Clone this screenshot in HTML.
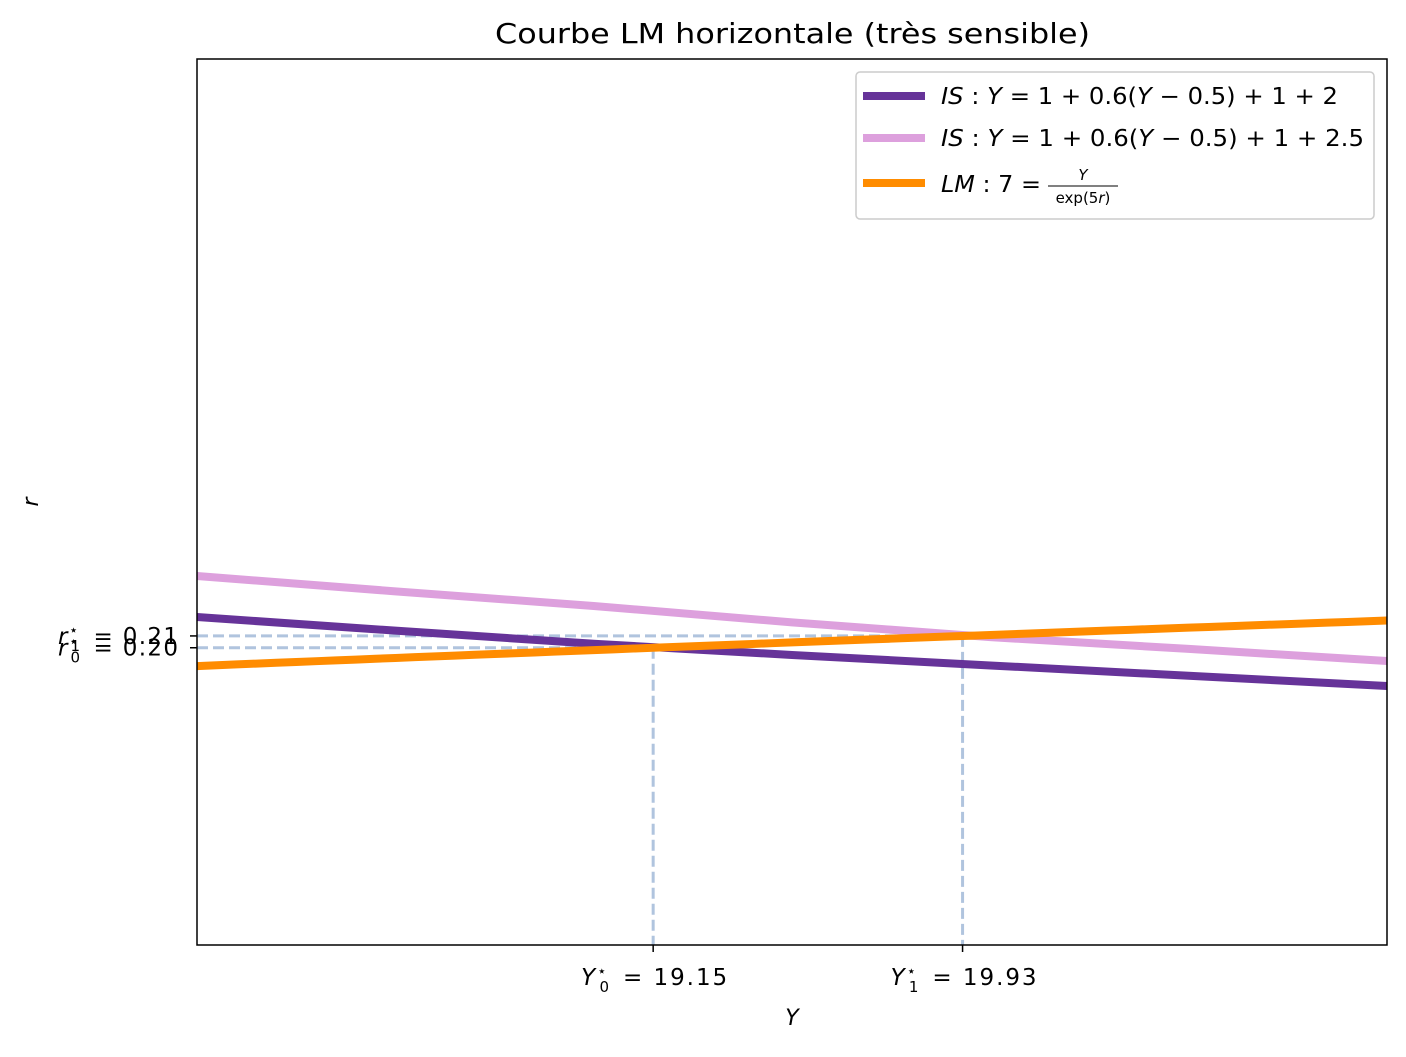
<!DOCTYPE html>
<html><head><meta charset="utf-8"><style>
body{margin:0;background:#fff}
svg text{font-family:"DejaVu Sans","Liberation Sans",sans-serif;fill:#000}
</style></head><body>
<svg width="1406" height="1052" viewBox="0 0 1406 1052">
<text x="495" y="43" font-size="28" textLength="595" lengthAdjust="spacingAndGlyphs">Courbe LM horizontale (très sensible)</text>
<g id="plot"></g>
<rect x="197" y="59" width="1190" height="886" fill="none" stroke="#000" stroke-width="1.5"/>
<text x="792" y="1025" font-size="22" font-style="italic" text-anchor="middle">Y</text>
<text x="38" y="502" font-size="22" font-style="italic" text-anchor="middle" transform="rotate(-90 38 502)">r</text>
<g>
<rect x="856" y="72" width="518" height="147" rx="4" fill="#fff" fill-opacity="0.8" stroke="#ccc" stroke-width="1.5"/>
<line x1="863" y1="96" x2="925" y2="96" stroke="#663399" stroke-width="8"/>
<text x="941" y="104" font-size="23" textLength="397" lengthAdjust="spacingAndGlyphs"><tspan font-style="italic">IS</tspan> : <tspan font-style="italic">Y</tspan> = 1 + 0.6(<tspan font-style="italic">Y</tspan> − 0.5) + 1 + 2</text>
<line x1="863" y1="138" x2="925" y2="138" stroke="#dda0dd" stroke-width="8"/>
<text x="941" y="146" font-size="23" textLength="423" lengthAdjust="spacingAndGlyphs"><tspan font-style="italic">IS</tspan> : <tspan font-style="italic">Y</tspan> = 1 + 0.6(<tspan font-style="italic">Y</tspan> − 0.5) + 1 + 2.5</text>
<line x1="863" y1="183" x2="925" y2="183" stroke="#ff8c00" stroke-width="8"/>
<text x="941" y="192" font-size="23" textLength="100" lengthAdjust="spacingAndGlyphs"><tspan font-style="italic">LM</tspan> : 7 =</text>
<text x="1083" y="180" font-size="15" font-style="italic" text-anchor="middle">Y</text>
<line x1="1048" y1="186" x2="1118" y2="186" stroke="#000" stroke-width="1"/>
<text x="1083" y="203" font-size="15" text-anchor="middle">exp(5<tspan font-style="italic">r</tspan>)</text>
</g>
</svg>
<script>
const Ygrid=[18,18.5,19,19.5,20,20.5,21];
const isBase=[0.2221,0.2129,0.2040,0.1964,0.1893,0.1823,0.1754];
const isShift=[0.2499,0.2395,0.2296,0.2185,0.2085,0.2005,0.1923];
const eqY=[19.15,19.93];
const eqR=[0.2013,0.2093];
const xTickLabels=["19.15","19.93"];
const yTickLabels=["0.20","0.21"];
const X0=197,X1=1387,T=59,B=945;
const sx=v=>X0+(v-18)/(21-18)*(X1-X0);
const sy=v=>B-(v-0)/(0.6-0)*(B-T);
const g=document.getElementById('plot');
const NS="http://www.w3.org/2000/svg";
function mk(t,a){const e=document.createElementNS(NS,t);for(const k in a)e.setAttribute(k,a[k]);g.appendChild(e);return e;}
eqY.forEach((y,i)=>{
 const h=mk('line',{x1:X0,x2:sx(y),y1:sy(eqR[i]),y2:sy(eqR[i]),stroke:'#b0c4de','stroke-width':3,'stroke-dasharray':'11,5'});
 
 
 const v=mk('line',{x1:sx(y),x2:sx(y),y1:sy(eqR[i]),y2:B,stroke:'#b0c4de','stroke-width':3,'stroke-dasharray':'11,5'});
 
 
});
function poly(vals,color,name){
 const p=mk('polyline',{points:Ygrid.map((y,i)=>sx(y)+','+sy(vals[i])).join(' '),fill:'none',stroke:color,'stroke-width':8});
 
 
}
poly(isBase,'#663399','is-curve-base');
poly(isShift,'#dda0dd','is-curve-shifted');
const lmPts=[];for(let y=18;y<=21.0001;y+=0.05)lmPts.push(sx(y)+','+sy(Math.log(y/7)/5));
const lm=mk('polyline',{points:lmPts.join(' '),fill:'none',stroke:'#ff8c00','stroke-width':8});


eqY.forEach((y,i)=>{
 const t=mk('line',{x1:sx(y),x2:sx(y),y1:B,y2:B+7,stroke:'#000','stroke-width':1.5});
 
 
 const l=mk('text',{x:sx(y)-72,y:B+40,'font-size':23,textLength:146,lengthAdjust:'spacing'});
 l.innerHTML='<tspan font-style="italic">Y</tspan><tspan font-size="15" dy="-9">⋆</tspan><tspan font-size="15" dx="-9" dy="16">'+i+'</tspan><tspan dy="-7" dx="12">= '+xTickLabels[i]+'</tspan>';
 
 
});
eqR.forEach((r,i)=>{
 const t=mk('line',{x1:X0-7,x2:X0,y1:sy(r),y2:sy(r),stroke:'#000','stroke-width':1.5});
 
 
 const l=mk('text',{x:58,y:sy(r)+8,'font-size':23,textLength:120,lengthAdjust:'spacing'});
 l.innerHTML='<tspan font-style="italic">r</tspan><tspan font-size="15" dy="-9">⋆</tspan><tspan font-size="15" dx="-9" dy="16">'+i+'</tspan><tspan dy="-7" dx="12">= '+yTickLabels[i]+'</tspan>';
 
 
});
</script>
</body></html>
